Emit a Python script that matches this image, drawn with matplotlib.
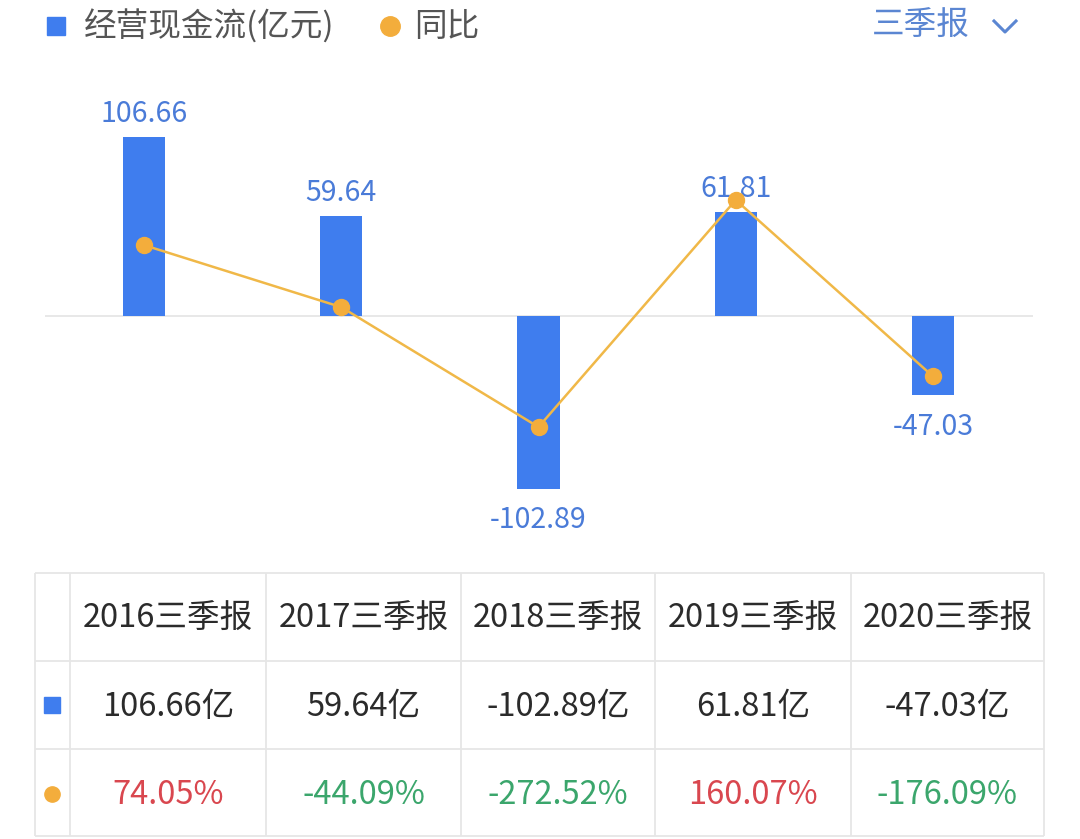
import matplotlib.pyplot as plt
from matplotlib.lines import Line2D
from matplotlib.patches import Rectangle

plt.rcParams["font.family"] = ["Noto Sans CJK SC", "DejaVu Sans"]

periods = ["2016三季报", "2017三季报", "2018三季报", "2019三季报", "2020三季报"]
cash_flow = [106.66, 59.64, -102.89, 61.81, -47.03]
yoy = [74.05, -44.09, -272.52, 160.07, -176.09]

BLUE = "#3f7dee"
BLUE_TXT = "#4a7bd8"
ORANGE = "#f3ad3c"
LINE_ORANGE = "#f0b848"
GRID = "#e6e6e6"
RED = "#d9474f"
GREEN = "#3ba66c"
DARK = "#2b2b2b"

W, H = 1080, 839
fig = plt.figure(figsize=(W / 100, H / 100), dpi=100)


def fx(px):
    return px / W


def fy(py):
    return 1 - py / H


# chart area
left, right, top, bottom = 45, 1033, 80, 540
ax = fig.add_axes([fx(left), fy(bottom), fx(right) - fx(left), (bottom - top) / H])
ax2 = ax.twinx()
x = list(range(len(periods)))

ax.bar(x, cash_flow, width=0.215, color=BLUE, zorder=2)
ax.axhline(0, color=GRID, lw=1.3, zorder=1)
ax.set_xlim(-0.502, 4.507)
ax.set_ylim(-133.5, 140.6)
for xi, v in zip(x, cash_flow):
    off = 6 if v >= 0 else -12
    ax.annotate(f"{v:.2f}", (xi, v), xytext=(0, off), textcoords="offset points",
                ha="center", va="bottom" if v >= 0 else "top",
                fontsize=20.5, fontweight="medium", color=BLUE_TXT, zorder=4)

ax2.plot(x, yoy, color=LINE_ORANGE, lw=1.8, marker="o", markersize=11.5,
         markerfacecolor=ORANGE, markeredgecolor=ORANGE, zorder=3)
ax2.set_ylim(-487.8, 388.7)

for a in (ax, ax2):
    a.set_axis_off()

# legend
fig.patches.append(Rectangle((fx(47), fy(35)), fx(18), 18 / H, transform=fig.transFigure,
                             color=BLUE))
fig.text(fx(84), fy(27), "经营现金流(亿元)", fontsize=23.5, color="#555555",
         va="center", ha="left")
fig.lines.append(Line2D([fx(390)], [fy(26)], marker="o", markersize=14, color=ORANGE,
                        transform=fig.transFigure))
fig.text(fx(414), fy(27), "同比", fontsize=23.5, color="#555555", va="center", ha="left")
fig.text(fx(872), fy(26), "三季报", fontsize=23.5, color="#5b86d2", va="center", ha="left")
fig.lines.append(Line2D([fx(994), fx(1005), fx(1016)], [fy(21), fy(32), fy(21)],
                        color="#5b86d2", lw=2.2, transform=fig.transFigure))

# table
col_edges = [35, 70, 266, 461, 655, 851, 1044]
row_edges = [573, 661, 749, 836]
tax = fig.add_axes([fx(col_edges[0]), fy(row_edges[-1]),
                    fx(col_edges[-1]) - fx(col_edges[0]),
                    (row_edges[-1] - row_edges[0]) / H])
tax.set_xlim(col_edges[0], col_edges[-1])
tax.set_ylim(row_edges[-1], row_edges[0])
tax.set_axis_off()
tax.hlines(row_edges, col_edges[0], col_edges[-1], color=GRID, lw=1.3, clip_on=False)
tax.vlines(col_edges, row_edges[0], row_edges[-1], color=GRID, lw=1.3, clip_on=False)

rc = [(row_edges[i] + row_edges[i + 1]) / 2 for i in range(3)]
cc = [(col_edges[i + 1] + col_edges[i + 2]) / 2 for i in range(len(periods))]
for i, p in enumerate(periods):
    tax.text(cc[i], rc[0] + 2, p, ha="center", va="center", fontsize=23.5,
             fontweight="medium", color=DARK)
    tax.text(cc[i], rc[1] + 2, f"{cash_flow[i]:.2f}亿", ha="center", va="center",
             fontsize=23.5, fontweight="medium", color=DARK)
    tax.text(cc[i], rc[2] + 2, f"{yoy[i]:.2f}%", ha="center", va="center", fontsize=23.5,
             fontweight="medium", color=RED if yoy[i] >= 0 else GREEN)
tax.add_patch(Rectangle((44, 697), 16, 16, color=BLUE, clip_on=False))
tax.plot([52], [794], marker="o", markersize=11, color=ORANGE, clip_on=False)

fig.savefig("out.png", dpi=100, facecolor="white")
